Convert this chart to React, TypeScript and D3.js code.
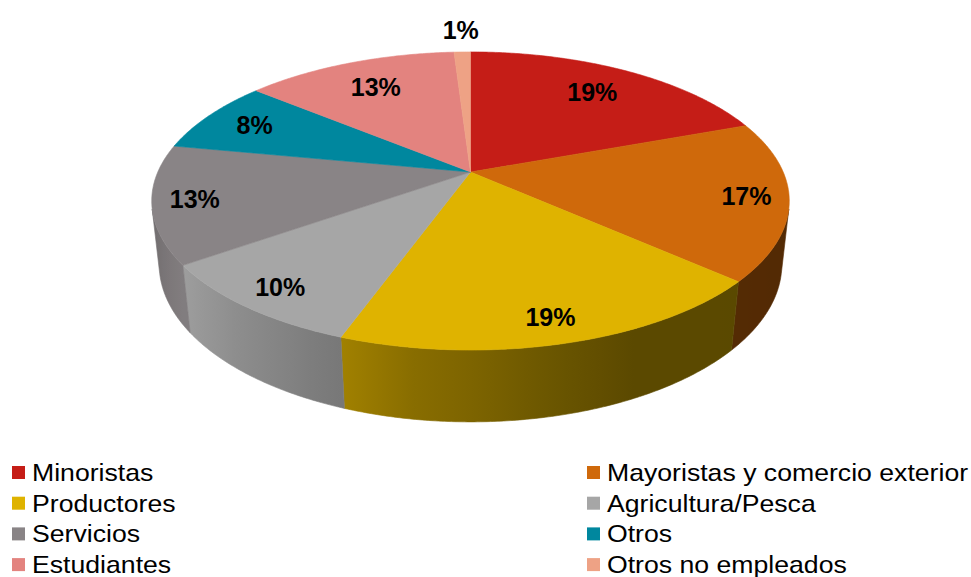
import React from "react";
import * as d3 from "d3";

const CATEGORIES = [
  "Minoristas",
  "Mayoristas y comercio exterior",
  "Productores",
  "Agricultura/Pesca",
  "Servicios",
  "Otros",
  "Estudiantes",
  "Otros no empleados",
];
// shares in %, read from the slice edges (labels show them rounded)
const SHARES = [19.4, 17.2, 18.9, 9.7, 12.8, 8.0, 13.0, 1.0];
const COLORS = ["#C51D17", "#CF690B", "#DFB300", "#A6A6A6", "#898486", "#00879E", "#E3837F", "#EEA285"];

const WIDTH = 971;
const HEIGHT = 577;

// 3d view, lengths in pie radius units
const CX = 470.5;
const CY = 172;
const FOCAL = 1429;
const CAM_DIST = 4.57;
const TILT = (27.3 * Math.PI) / 180;
const THICK = 0.229;

const project = (phi: number, k: number, y: number): [number, number] => {
  const X = k * Math.sin(phi);
  const Z = -k * Math.cos(phi);
  const d = CAM_DIST - y * Math.sin(TILT) - Z * Math.cos(TILT);
  const yc = y * Math.cos(TILT) - Z * Math.sin(TILT);
  return [CX + (FOCAL * X) / d, CY - (FOCAL * yc) / d];
};

// how bright the side wall is at each angle (degrees)
const wallLight = d3
  .scaleLinear()
  .domain([104, 155, 170, 178, 190, 198, 234, 256])
  .range([0.4, 0.41, 0.49, 0.55, 0.62, 0.71, 0.95, 0.8])
  .clamp(true);

const shade = (c: string, f: number) => {
  const col = d3.rgb(c);
  return d3.rgb(col.r * f, col.g * f, col.b * f).formatHex();
};

const arcPoints = (a0: number, a1: number, k: number, y: number) => {
  const n = Math.max(2, Math.ceil(((a1 - a0) * 180) / Math.PI / 0.5));
  const pts: [number, number][] = [];
  for (let i = 0; i <= n; i++) pts.push(project(a0 + ((a1 - a0) * i) / n, k, y));
  return pts;
};

const Pie3D = () => {
  const ref = React.useRef<SVGSVGElement>(null);

  React.useEffect(() => {
    const svg = d3.select(ref.current);
    svg.selectAll("*").remove();

    const data = CATEGORIES.map((name, i) => ({ name, value: SHARES[i], color: COLORS[i] }));
    const arcs = d3
      .pie<any>()
      .sort(null)
      .value((d) => d.value)(data);

    const line = d3.line();
    const defs = svg.append("defs");

    // side walls, only the part that faces the camera
    const visFrom = Math.acos(-1 / (CAM_DIST * Math.cos(TILT)));
    const visTo = 2 * Math.PI - visFrom;
    const walls = svg.append("g");
    arcs.forEach((a, i) => {
      const s = Math.max(a.startAngle, visFrom);
      const e = Math.min(a.endAngle, visTo);
      if (s >= e) return;
      const top = arcPoints(s, e, 1, 0);
      const bot = arcPoints(s, e, 1, -THICK).reverse();
      const gid = "wall" + i;
      const x1 = top[0][0];
      const x2 = top[top.length - 1][0];
      const grad = defs
        .append("linearGradient")
        .attr("id", gid)
        .attr("gradientUnits", "userSpaceOnUse")
        .attr("x1", x1)
        .attr("x2", x2)
        .attr("y1", 0)
        .attr("y2", 0);
      const steps = 12;
      for (let j = 0; j <= steps; j++) {
        const phi = s + ((e - s) * j) / steps;
        const px = project(phi, 1, 0)[0];
        grad
          .append("stop")
          .attr("offset", x2 === x1 ? 0 : (px - x1) / (x2 - x1))
          .attr("stop-color", shade(a.data.color, wallLight((phi * 180) / Math.PI)));
      }
      walls
        .append("path")
        .attr("d", line([...top, ...bot]) + "Z")
        .attr("fill", `url(#${gid})`)
        .attr("stroke", `url(#${gid})`)
        .attr("stroke-width", 0.6);
    });

    // top face
    svg
      .append("g")
      .selectAll("path")
      .data(arcs)
      .enter()
      .append("path")
      .attr("d", (a) => line([project(0, 0, 0), ...arcPoints(a.startAngle, a.endAngle, 1, 0)]) + "Z")
      .attr("fill", (a) => a.data.color)
      .attr("stroke", (a) => a.data.color)
      .attr("stroke-width", 0.6)
      .attr("stroke-linejoin", "round");

    // percent labels, small slices go outside
    svg
      .append("g")
      .selectAll("text")
      .data(arcs)
      .enter()
      .append("text")
      .attr("transform", (a) => {
        const mid = (a.startAngle + a.endAngle) / 2;
        const k = a.data.value < 3 ? 1.23 : 0.87 - 0.13 * Math.max(0, Math.cos(mid));
        const p = project(mid, k, 0);
        return `translate(${p[0]},${p[1]})`;
      })
      .attr("text-anchor", "middle")
      .attr("dy", "0.36em")
      .style("font-family", "'Liberation Sans', Arial, sans-serif")
      .style("font-weight", "bold")
      .style("font-size", "25px")
      .style("fill", "#000")
      .text((a) => Math.round(a.data.value) + "%");

    // legend, two columns
    const colX = [12, 587];
    const rowY = d3.scalePoint<number>().domain(d3.range(4)).range([481, 573.1]);
    const leg = svg
      .append("g")
      .selectAll("g")
      .data(data)
      .enter()
      .append("g")
      .attr("transform", (d, i) => `translate(${colX[i % 2]},${rowY(Math.floor(i / 2))})`);
    leg
      .append("rect")
      .attr("x", 0)
      .attr("y", -15)
      .attr("width", 13)
      .attr("height", 13)
      .attr("fill", (d) => d.color);
    leg
      .append("text")
      .attr("transform", "translate(20,0) scale(1.11,1)")
      .style("font-family", "'Liberation Sans', Arial, sans-serif")
      .style("font-size", "24px")
      .style("fill", "#000")
      .text((d) => d.name);
  }, []);

  return (
    <svg
      ref={ref}
      width={WIDTH}
      height={HEIGHT}
      style={{ position: "absolute", left: 0, top: 0, background: "#fff" }}
    />
  );
};

export default function App() {
  return (
    <div>
      <Pie3D />
    </div>
  );
}
